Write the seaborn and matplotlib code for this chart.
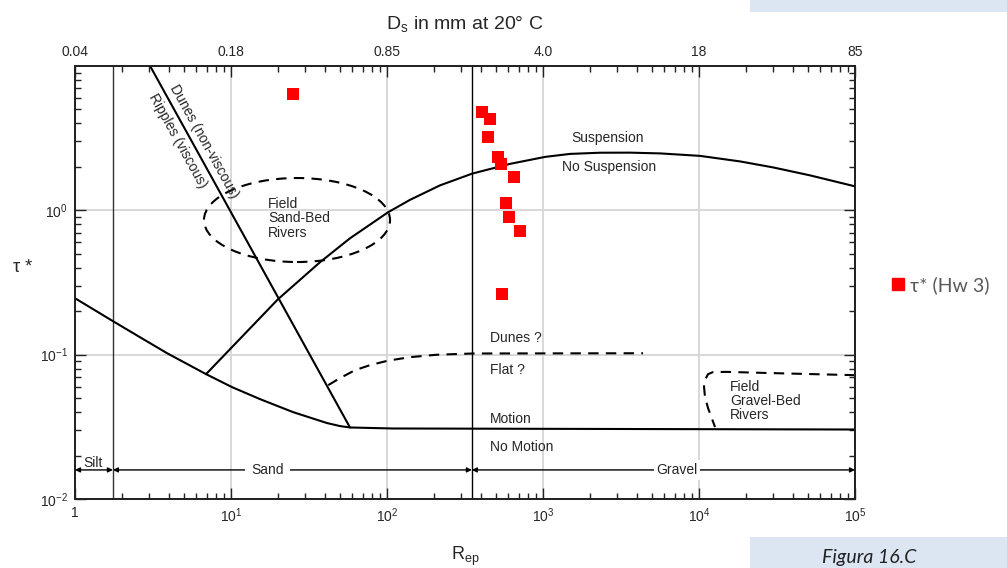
import matplotlib
matplotlib.use("Agg")
import matplotlib.pyplot as plt
import seaborn as sns
import pandas as pd
from matplotlib.patches import Ellipse, Rectangle
from matplotlib.lines import Line2D
from matplotlib.ticker import FixedLocator, FixedFormatter, LogLocator, NullFormatter

# ---------------- data ----------------
shields_rep = [1, 1.752, 2.61, 3.89, 6.92, 10.15, 15.35, 24.98, 41.2, 50, 57.9, 109, 1e5]
shields_tau = [0.246, 0.1706, 0.1321, 0.1024, 0.0733, 0.0596, 0.0492, 0.040, 0.0336, 0.032,
               0.0313, 0.0308, 0.0303]

ripple_rep = [3.03, 57.9]
ripple_tau = [10, 0.0313]

susp_rep = [6.92, 20.0, 37.2, 57.9, 101.5, 140.4, 218.6, 350.8, 614, 1030, 1489, 2317, 3610,
            5623, 10150, 18300, 29800, 51500, 1e5]
susp_tau = [0.0733, 0.242, 0.437, 0.640, 0.969, 1.182, 1.489, 1.795, 2.098, 2.345, 2.46, 2.507,
            2.51, 2.48, 2.384, 2.183, 1.984, 1.747, 1.466]

flat_rep = [42.0, 49.96, 62.4, 77.8, 101.5, 140.4, 209, 356, 4375]
flat_tau = [0.0615, 0.0688, 0.0781, 0.0846, 0.0909, 0.0961, 0.0999, 0.1019, 0.1023]

gravel_rep = [1e5, 53800, 25700, 15060, 12300, 11430, 10920, 10770, 10920, 11430, 12060, 12670]
gravel_tau = [0.0721, 0.0733, 0.0748, 0.076, 0.0757, 0.0733, 0.0667, 0.060, 0.051, 0.0426,
              0.0364, 0.0315]

hw_rep = [25, 406, 457, 444, 515, 538, 652, 579, 606, 713, 546]
hw_tau = [6.35, 4.77, 4.26, 3.2, 2.33, 2.08, 1.69, 1.12, 0.895, 0.716, 0.262]

rep_ticks = [1, 10, 100, 1e3, 1e4, 1e5]
rep_labels = ["1", "$10^1$", "$10^2$", "$10^3$", "$10^4$", "$10^5$"]
ds_labels = ["0.04", "0.18", "0.85", "4.0", "18", "85"]
tau_ticks = [0.01, 0.1, 1]
tau_labels = ["$10^{-2}$", "$10^{-1}$", "$10^0$"]

silt_sand = 1.75
sand_gravel = 350
# -----------------------------------------------------------------

sns.set_theme(style="white")
plt.rcParams["font.family"] = ["Liberation Sans", "DejaVu Sans"]
plt.rcParams["mathtext.fontset"] = "custom"
plt.rcParams["mathtext.rm"] = "Liberation Sans"
plt.rcParams["mathtext.it"] = "Liberation Sans:italic"
plt.rcParams["mathtext.default"] = "regular"

fig = plt.figure(figsize=(10.07, 5.68), dpi=100)
ax = fig.add_axes([75 / 1007, 69 / 568, 780 / 1007, 433 / 568])
ax.set_xscale("log")
ax.set_yscale("log")
ax.set_xlim(1, 1e5)
ax.set_ylim(0.01, 10)

ax.grid(True, which="major", color="#d6d6d6", lw=1.3)
ax.set_axisbelow(True)

ax.axvline(silt_sand, color="#333333", lw=1.0, zorder=2)
ax.axvline(sand_gravel, color="black", lw=1.0, zorder=2)

lw = 1.5
dash = (0, (5, 3.5))


def line(xs, ys, dashed=False):
    df = pd.DataFrame({"x": xs, "y": ys})
    kw = dict(linestyle=dash) if dashed else {}
    sns.lineplot(data=df, x="x", y="y", sort=False, estimator=None, color="black",
                 lw=lw, ax=ax, zorder=3, **kw)


line(shields_rep, shields_tau)
line(ripple_rep, ripple_tau)
line(susp_rep, susp_tau)
line(flat_rep, flat_tau, dashed=True)
line(gravel_rep, gravel_tau, dashed=True)

# Field sand-bed rivers (dashed ellipse, drawn in axes fraction)
ell = Ellipse((0.2846, 0.6443), 0.2385, 0.194, transform=ax.transAxes, fill=False,
              ec="black", lw=lw, linestyle=dash, zorder=3)
ax.add_patch(ell)

sns.scatterplot(x=hw_rep, y=hw_tau, marker="s", color="#ff0000", s=64, linewidth=0,
                ax=ax, zorder=6, legend=False)

fs = 10
ax.text(2610, 3.15, "Suspension", ha="center", va="center", fontsize=fs)
ax.text(2650, 2.0, "No Suspension", ha="center", va="center", fontsize=fs)
ax.text(17.3, 0.88, "Field\nSand-Bed\nRivers", ha="left", va="center", fontsize=fs, linespacing=1.05)
ax.text(457, 0.13, "Dunes ?", ha="left", va="center", fontsize=fs)
ax.text(457, 0.078, "Flat ?", ha="left", va="center", fontsize=fs)
ax.text(457, 0.0358, "Motion", ha="left", va="center", fontsize=fs)
ax.text(457, 0.0229, "No Motion", ha="left", va="center", fontsize=fs)
ax.text(15800, 0.0477, "Field\nGravel-Bed\nRivers", ha="left", va="center", fontsize=fs, linespacing=1.0)

ax.annotate("Dunes (non-viscous)", xy=(5.84, 2.75), xytext=(9.2, 5.1), textcoords="offset pixels",
            rotation=-61, rotation_mode="anchor", ha="center", va="center", fontsize=fs)
ax.annotate("Ripples (viscous)", xy=(5.29, 3.34), xytext=(-10.5, -5.8), textcoords="offset pixels",
            rotation=-61, rotation_mode="anchor", ha="center", va="center", fontsize=fs)

# size-class arrows
ya = 0.0159
ap = dict(arrowstyle="<|-|>", color="black", lw=1.0, mutation_scale=7, shrinkA=0, shrinkB=0)
ax.annotate("", xy=(silt_sand, ya), xytext=(1, ya), arrowprops=ap, zorder=4)
ax.annotate("", xy=(sand_gravel, ya), xytext=(silt_sand, ya), arrowprops=ap, zorder=4)
ax.annotate("", xy=(1e5, ya), xytext=(sand_gravel, ya), arrowprops=ap, zorder=4)
ax.text(1.30, 0.0178, "Silt", ha="center", va="center", fontsize=fs, zorder=5)
ax.text(17.1, ya, "Sand", ha="center", va="center", fontsize=fs, zorder=5,
        bbox=dict(fc="white", ec="none", pad=4.5))
ax.text(7230, ya, "Gravel", ha="center", va="center", fontsize=fs, zorder=5,
        bbox=dict(fc="white", ec="none", pad=2))

# axes styling
for sp in ax.spines.values():
    sp.set_color("#222222")
    sp.set_linewidth(1.3)
ax.xaxis.set_major_locator(FixedLocator(rep_ticks))
ax.xaxis.set_major_formatter(FixedFormatter(rep_labels))
ax.xaxis.set_minor_locator(LogLocator(base=10, subs=range(2, 10)))
ax.xaxis.set_minor_formatter(NullFormatter())
ax.yaxis.set_major_locator(FixedLocator(tau_ticks))
ax.yaxis.set_major_formatter(FixedFormatter(tau_labels))
ax.yaxis.set_minor_locator(LogLocator(base=10, subs=range(2, 10)))
ax.yaxis.set_minor_formatter(NullFormatter())
ax.tick_params(which="both", direction="in", color="#222222", width=1.0,
               left=True, right=True, bottom=True, top=False, labelsize=10)
ax.tick_params(which="major", length=8, pad=5)
ax.tick_params(which="minor", length=4)

ax.set_xlabel("R$_{ep}$", fontsize=13)
ax.xaxis.set_label_coords(0.5, -0.105)
ax.set_ylabel("τ *", rotation=0, fontsize=13, ha="center", va="center")
ax.yaxis.set_label_coords(-0.067, 0.535)

ax2 = ax.twiny()
ax2.set_xscale("log")
ax2.set_xlim(1, 1e5)
ax2.xaxis.set_major_locator(FixedLocator(rep_ticks))
ax2.xaxis.set_major_formatter(FixedFormatter(ds_labels))
ax2.xaxis.set_minor_locator(LogLocator(base=10, subs=range(2, 10)))
ax2.xaxis.set_minor_formatter(NullFormatter())
ax2.tick_params(which="both", direction="in", color="#222222", width=1.0, labelsize=10)
ax2.tick_params(which="major", length=8, pad=5)
ax2.tick_params(which="minor", length=4)
ax2.set_xlabel("D$_s$ in mm at 20° C", fontsize=14)
ax2.xaxis.set_label_coords(0.5, 1.085)
for sp in ax2.spines.values():
    sp.set_color("#222222")
    sp.set_linewidth(1.3)

# legend outside right
h = Line2D([], [], marker="s", color="#ff0000", linestyle="none", markersize=8)
leg = fig.legend([h], ["τ* (Hw 3)"], loc="center left", bbox_to_anchor=(871 / 1007, 1 - 285 / 568),
                 frameon=False, handletextpad=0.1, handlelength=1.0,
                 prop={"family": "Lato", "size": 14})
for t in leg.get_texts():
    t.set_color("#595959")

# light-blue decorative boxes
fig.patches.append(Rectangle((750 / 1007, 1 - 12 / 568), 257 / 1007, 12 / 568,
                             transform=fig.transFigure, fc="#dce6f2", ec="none"))
fig.patches.append(Rectangle((750 / 1007, 0), 257 / 1007, 31 / 568,
                             transform=fig.transFigure, fc="#dce6f2", ec="none"))
fig.text(822 / 1007, 5.5 / 568, "Figura 16.C", fontsize=14, style="italic", family="Lato",
         color="#222222", ha="left", va="baseline")

fig.savefig("out.png", dpi=100)
